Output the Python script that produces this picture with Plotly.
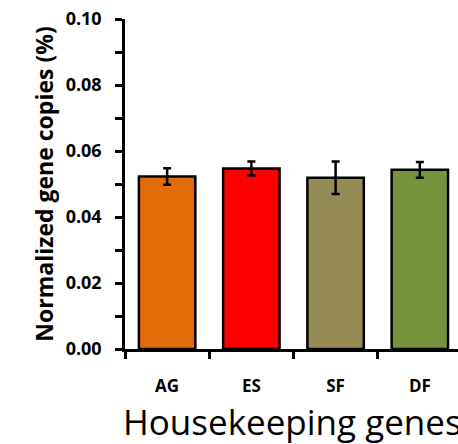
import plotly.graph_objects as go

# Housekeeping gene expression (normalized copies, %)
genes = ["AG", "ES", "SF", "DF"]
values = [0.0523, 0.0547, 0.0519, 0.0543]
errors = [0.0025, 0.0021, 0.0049, 0.0024]
colors = ["#E36C0A", "#FF0000", "#958B55", "#77933C"]

y_ticks = [0.00, 0.02, 0.04, 0.06, 0.08, 0.10]
y_ticklabels = ["0.00", "0.02", "0.04", "0.06", "0.08", "0.10"]

fig = go.Figure()
fig.add_trace(go.Bar(
    x=genes,
    y=values,
    marker=dict(color=colors, line=dict(color="black", width=2.5)),
    width=0.67,
    error_y=dict(type="data", array=errors, visible=True,
                 color="black", thickness=2.5, width=4),
))

fig.update_layout(
    width=458, height=444,
    margin=dict(l=125, r=0, t=19, b=95),
    plot_bgcolor="white", paper_bgcolor="white",
    showlegend=False,
    font=dict(family="Open Sans", color="black"),
)

fig.update_xaxes(
    range=[-0.5, 3.453],
    showline=True, linecolor="black", linewidth=2.5,
    ticks="outside", tickson="boundaries", ticklen=7, tickwidth=2.5, tickcolor="black",
    tickfont=dict(family="Open Sans", size=17, color="black", weight="bold"),
    ticklabelstandoff=20,
    showgrid=False, zeroline=False,
)

fig.update_yaxes(
    range=[0, 0.1],
    tickvals=y_ticks, ticktext=y_ticklabels,
    showline=True, linecolor="black", linewidth=2.5,
    ticks="outside", ticklen=7, tickwidth=2.5, tickcolor="black",
    minor=dict(ticks="outside", dtick=0.01, ticklen=7, tickwidth=2.5, tickcolor="black"),
    tickfont=dict(family="Open Sans", size=18, color="black", weight="bold"),
    ticklabelstandoff=10,
    showgrid=False, zeroline=False,
    title=dict(text="Normalized gene copies (%)",
               font=dict(family="Open Sans", size=23, color="black", weight="bold"),
               standoff=6),
)

fig.add_annotation(
    text="Housekeeping genes",
    xref="paper", yref="paper", x=0.0, y=0, xanchor="left", yanchor="top",
    yshift=-47, xshift=-4,
    showarrow=False,
    font=dict(family="Open Sans", size=35, color="black"),
)

fig.write_html("out.html")
